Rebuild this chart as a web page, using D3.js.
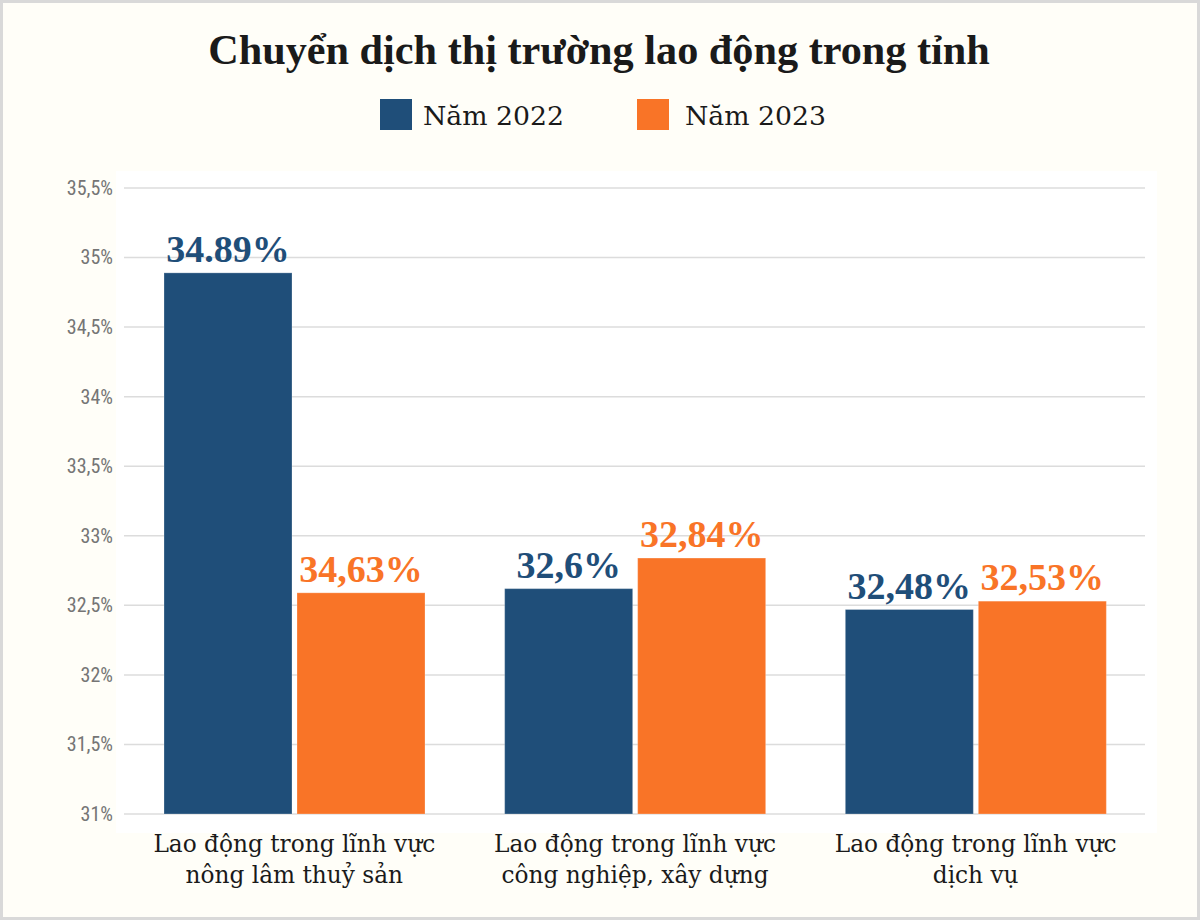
<!DOCTYPE html>
<html>
<head>
<meta charset="utf-8">
<script src="https://cdn.jsdelivr.net/npm/d3@7"></script>
<style>
  html, body { margin: 0; padding: 0; background: #fffef8; }
  svg { display: block; }
</style>
</head>
<body>
<svg id="chart" width="1200" height="920"></svg>
<script>
// ---- data ----
const title = "Chuyển dịch thị trường lao động trong tỉnh";
const categories = ["Lao động trong lĩnh vực\nnông lâm thuỷ sản", "Lao động trong lĩnh vực\ncông nghiệp, xây dựng", "Lao động trong lĩnh vực\ndịch vụ"];
const seriesNames = ["Năm 2022", "Năm 2023"];
const values2022 = [34.89, 32.62, 32.47];
const values2023 = [32.59, 32.84, 32.53];
const labels2022 = ["34.89%", "32,6%", "32,48%"];
const labels2023 = ["34,63%", "32,84%", "32,53%"];
const yTickValues = [31, 31.5, 32, 32.5, 33, 33.5, 34, 34.5, 35, 35.5];
const yTickLabels = ["31%", "31,5%", "32%", "32,5%", "33%", "33,5%", "34%", "34,5%", "35%", "35,5%"];
const colors = ["#1f4e79", "#f97427"];

// ---- drawing ----
const svg = d3.select("#chart");
const serifBold = "'Liberation Serif', 'DejaVu Serif', serif";
const serifWide = "'DejaVu Serif', 'Liberation Serif', serif";
const sansNarrow = "'Liberation Sans Narrow', 'Roboto Condensed', 'Liberation Sans', sans-serif";

function fitWidth(sel, target) {
  const node = sel.node();
  const w = node.getComputedTextLength();
  const fs = parseFloat(sel.attr("font-size"));
  if (w > 0) sel.attr("font-size", fs * target / w);
  return sel;
}

// frame
svg.append("rect").attr("x", 1.5).attr("y", 1.5).attr("width", 1197).attr("height", 917)
  .attr("fill", "#fffef8").attr("stroke", "#d9d9d9").attr("stroke-width", 3);

// plot background
svg.append("rect").attr("x", 116).attr("y", 171).attr("width", 1041).attr("height", 662).attr("fill", "#ffffff");

const x0 = d3.scaleBand().domain(categories).range([124, 1146]).paddingInner(0).paddingOuter(0);
const x1 = d3.scaleBand().domain(seriesNames).range([40, 301]).paddingInner(0.0376).paddingOuter(0);
const y = d3.scaleLinear().domain([31, 35.5]).range([814, 188]);

// grid
svg.append("g").selectAll("line").data(yTickValues).join("line")
  .attr("x1", 124).attr("x2", 1145)
  .attr("y1", d => y(d)).attr("y2", d => y(d))
  .attr("stroke", "#dcdcdc").attr("stroke-width", 1.5);

// y axis labels
const yAxis = d3.axisLeft(y).tickValues(yTickValues).tickFormat((d, i) => yTickLabels[i]).tickSize(0).tickPadding(0);
const gy = svg.append("g").attr("transform", "translate(113,0)").call(yAxis);
gy.select(".domain").remove();
gy.selectAll("text").attr("font-family", sansNarrow).attr("font-size", 20).attr("fill", "#757575");

// bars
const rows = categories.map((c, i) => ({ cat: c, vals: [values2022[i], values2023[i]], labels: [labels2022[i], labels2023[i]] }));
const groups = svg.append("g").selectAll("g").data(rows).join("g")
  .attr("transform", d => `translate(${x0(d.cat)},0)`);

groups.selectAll("rect").data(d => d.vals.map((v, j) => ({ s: seriesNames[j], v, j }))).join("rect")
  .attr("x", d => x1(d.s)).attr("width", x1.bandwidth())
  .attr("y", d => y(d.v)).attr("height", d => y(31) - y(d.v))
  .attr("fill", d => colors[d.j])
  .attr("stroke", "#ffffff").attr("stroke-opacity", 0.25).attr("stroke-width", 1);

groups.selectAll("text.val").data(d => d.vals.map((v, j) => ({ s: seriesNames[j], v, j, label: d.labels[j] }))).join("text")
  .attr("class", "val")
  .attr("x", d => x1(d.s) + x1.bandwidth() / 2)
  .attr("y", d => y(d.v) - 11)
  .attr("text-anchor", "middle")
  .attr("font-family", serifBold).attr("font-weight", "bold").attr("font-size", 38)
  .attr("fill", d => colors[d.j])
  .text(d => d.label);

// category labels
const catG = svg.append("g").selectAll("text").data(categories).join("text")
  .attr("text-anchor", "middle")
  .attr("font-family", serifWide).attr("font-size", 23).attr("fill", "#1a1a1a");
catG.each(function (d) {
  const t = d3.select(this);
  const lines = d.split("\n");
  lines.forEach((ln, k) => {
    t.append("tspan").attr("x", x0(d) + x0.bandwidth() / 2).attr("y", 852 + k * 31).text(ln);
  });
});
// fit first line width to ~282px
{
  const first = catG.filter((d, i) => i === 0).select("tspan");
  const w = first.node().getComputedTextLength();
  if (w > 0) catG.attr("font-size", 23 * 282 / w);
}

// title
const titleSel = svg.append("text").attr("x", 599).attr("y", 64).attr("text-anchor", "middle")
  .attr("font-family", serifBold).attr("font-weight", "bold").attr("font-size", 40)
  .attr("fill", "#1a1a1a").text(title);
fitWidth(titleSel, 782);

// legend
const legendX = [380, 637];
const legend = svg.append("g").selectAll("g").data(seriesNames).join("g")
  .attr("transform", (d, i) => `translate(${legendX[i]},0)`);
legend.append("rect").attr("x", 0).attr("y", 99).attr("width", 32).attr("height", 31)
  .attr("fill", (d, i) => colors[i]);
legend.append("text").attr("x", (d, i) => i === 0 ? 43 : 48).attr("y", 125)
  .attr("font-family", serifWide).attr("font-size", 27.5).attr("fill", "#1a1a1a")
  .text(d => d)
  .each(function () { fitWidth(d3.select(this), 141); });
</script>
</body>
</html>
